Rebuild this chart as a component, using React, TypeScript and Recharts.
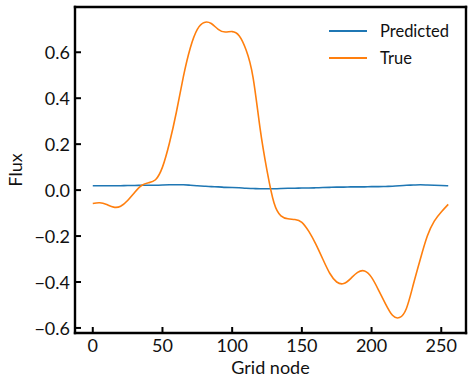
import { LineChart, Line, XAxis, YAxis, Legend, ReferenceLine } from "recharts";

// grid node index (sampled every 5 nodes)
const gridNodes = [
  0, 5, 10, 15, 20, 25, 30, 35, 40, 45, 50, 55, 60, 65, 70, 75, 80, 85, 90, 95,
  100, 105, 110, 115, 120, 125, 130, 135, 140, 145, 150, 155, 160, 165, 170,
  175, 180, 185, 190, 195, 200, 205, 210, 215, 220, 225, 230, 235, 240, 245,
  250, 255,
];

const predictedFlux = [
  0.019, 0.019, 0.019, 0.019, 0.019, 0.02, 0.02, 0.021, 0.021, 0.021, 0.022,
  0.023, 0.023, 0.023, 0.021, 0.019, 0.017, 0.015, 0.014, 0.012, 0.011, 0.01,
  0.008, 0.007, 0.006, 0.006, 0.006, 0.007, 0.008, 0.008, 0.009, 0.009, 0.01,
  0.011, 0.012, 0.013, 0.013, 0.014, 0.014, 0.014, 0.015, 0.015, 0.016, 0.017,
  0.019, 0.021, 0.022, 0.023, 0.022, 0.021, 0.02, 0.019,
];

const trueFlux = [
  -0.058, -0.055, -0.063, -0.074, -0.07, -0.045, -0.01, 0.02, 0.032, 0.045,
  0.1, 0.205, 0.34, 0.494, 0.62, 0.7, 0.73, 0.725, 0.7, 0.688, 0.69, 0.672,
  0.61, 0.49, 0.27, 0.085, -0.055, -0.112, -0.125, -0.128, -0.14, -0.18,
  -0.235, -0.3, -0.362, -0.4, -0.407, -0.385, -0.358, -0.352, -0.38, -0.435,
  -0.495, -0.545, -0.555, -0.515, -0.41, -0.3, -0.2, -0.135, -0.095, -0.062,
];

const xTicks = [0, 50, 100, 150, 200, 250];
const yTicks = [-0.6, -0.4, -0.2, 0, 0.2, 0.4, 0.6];

const X_DOMAIN = [-12.75, 267.75];
const Y_DOMAIN = [-0.622, 0.797];

const COLORS = {
  predicted: "#1f77b4",
  true: "#ff7f0e",
};

const FONT = "Lato, 'DejaVu Sans', sans-serif";

const data = gridNodes.map((x, i) => ({
  x,
  predicted: predictedFlux[i],
  true: trueFlux[i],
}));

function fmtY(v: number) {
  return v.toFixed(1).replace("-", "\u2212");
}

function XTick(props: any) {
  const { x, y, payload } = props;
  return (
    <g>
      <line x1={x} x2={x} y1={y} y2={y - 6} stroke="#000" strokeWidth={2} />
      <text
        x={x}
        y={y + 12}
        textAnchor="middle"
        dominantBaseline="central"
        fontSize={18}
        fill="#111"
        fontFamily={FONT}
      >
        {payload.value}
      </text>
    </g>
  );
}

function YTick(props: any) {
  const { x, y, payload } = props;
  return (
    <g>
      <line x1={x} x2={x + 6} y1={y} y2={y} stroke="#000" strokeWidth={2} />
      <text
        x={x - 5}
        y={y}
        textAnchor="end"
        dominantBaseline="central"
        fontSize={18}
        fill="#111"
        fontFamily={FONT}
      >
        {fmtY(payload.value)}
      </text>
    </g>
  );
}

function LegendBox() {
  const items = [
    { label: "Predicted", color: COLORS.predicted },
    { label: "True", color: COLORS.true },
  ];
  return (
    <div style={{ fontFamily: FONT, fontSize: 16.5, color: "#111" }}>
      {items.map((it) => (
        <div
          key={it.label}
          style={{ display: "flex", alignItems: "center", height: 26.7 }}
        >
          <span
            style={{
              display: "inline-block",
              width: 38,
              height: 2,
              background: it.color,
              marginRight: 13,
            }}
          />
          <span>{it.label}</span>
        </div>
      ))}
    </div>
  );
}

export default function App() {
  const axisLine = { stroke: "#000", strokeWidth: 2.4, strokeLinecap: "square" };
  return (
    <div style={{ position: "absolute", left: 0, top: 0, background: "#fff" }}>
      <LineChart
        width={473}
        height={385}
        data={data}
        margin={{ top: 7, right: 7, left: 0, bottom: 0 }}
      >
        <XAxis
          dataKey="x"
          type="number"
          domain={X_DOMAIN}
          ticks={xTicks}
          allowDataOverflow
          height={52}
          tickSize={0}
          tickMargin={0}
          tickLine={false}
          axisLine={axisLine}
          tick={<XTick />}
          label={{
            value: "Grid node",
            position: "insideBottom",
            offset: 11,
            fontSize: 18,
            fill: "#111",
            fontFamily: FONT,
          }}
        />
        <YAxis
          type="number"
          domain={Y_DOMAIN}
          ticks={yTicks}
          allowDataOverflow
          width={75}
          tickSize={0}
          tickMargin={0}
          tickLine={false}
          axisLine={axisLine}
          tick={<YTick />}
          label={{
            content: (p: any) => {
              const vb = p.viewBox || { x: 0, y: 7, width: 75, height: 326 };
              const cx = vb.x + 15;
              const cy = vb.y + vb.height / 2;
              return (
                <text
                  x={cx}
                  y={cy}
                  transform={`rotate(-90 ${cx} ${cy})`}
                  textAnchor="middle"
                  dominantBaseline="central"
                  fontSize={18}
                  fill="#111"
                  fontFamily={FONT}
                >
                  Flux
                </text>
              );
            },
          }}
        />
        {/* top and right spines */}
        <ReferenceLine
          y={Y_DOMAIN[1]}
          stroke="#000"
          strokeWidth={2.4}
          strokeLinecap="square"
          ifOverflow="visible"
        />
        <ReferenceLine
          x={X_DOMAIN[1]}
          stroke="#000"
          strokeWidth={2.4}
          strokeLinecap="square"
          ifOverflow="visible"
        />
        <Legend
          layout="vertical"
          align="center"
          verticalAlign="middle"
          content={<LegendBox />}
          wrapperStyle={{ left: 329, top: 17.6, width: "auto" }}
        />
        <Line
          type="natural"
          dataKey="predicted"
          stroke={COLORS.predicted}
          strokeWidth={1.6}
          dot={false}
          isAnimationActive={false}
        />
        <Line
          type="natural"
          dataKey="true"
          stroke={COLORS.true}
          strokeWidth={1.6}
          dot={false}
          isAnimationActive={false}
        />
      </LineChart>
    </div>
  );
}
